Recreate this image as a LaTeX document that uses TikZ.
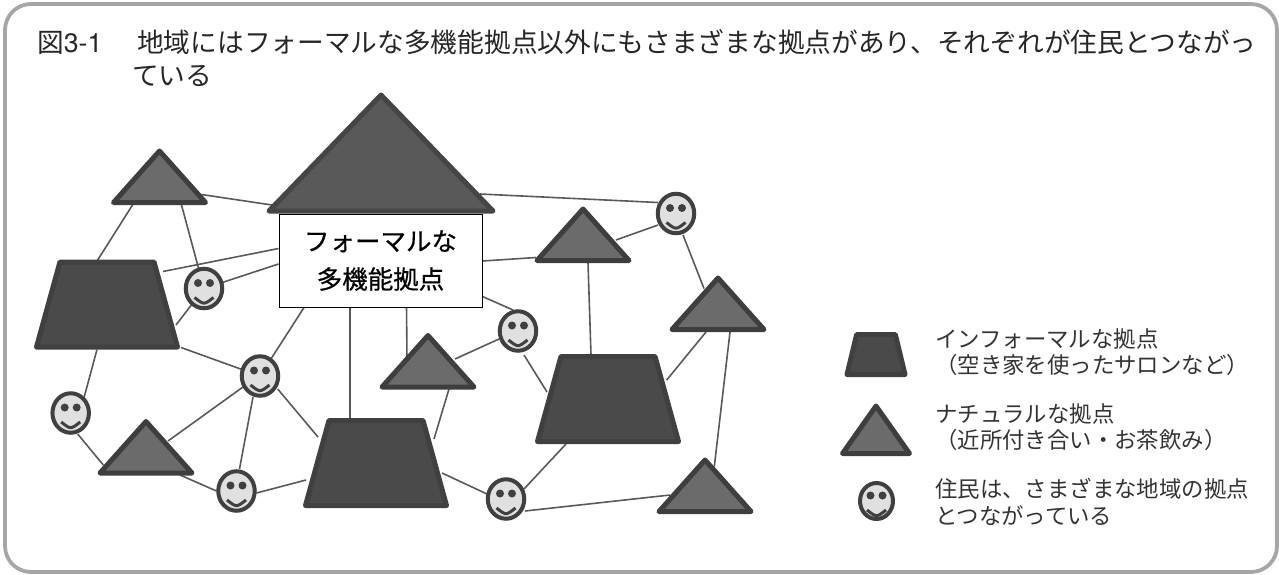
\documentclass[tikz,border=0pt]{standalone}
\usepackage{fontspec}
\setmainfont{Noto Sans CJK JP}
\newfontfamily\latinfont{TeX Gyre Heros}
\newfontfamily\boxfont[FakeBold=0.6]{Noto Sans CJK JP}
\usetikzlibrary{shapes.geometric,backgrounds}
\definecolor{framegray}{HTML}{A6A6A6}
\definecolor{linkgray}{HTML}{595959}
\definecolor{edgegray}{HTML}{3E3E3E}
\tikzset{
  titletext/.style={anchor=base west,inner sep=0pt,font=\fontsize{26.7}{33}\selectfont,text=black!85},
  legendtext/.style={anchor=base west,inner sep=0pt,font=\fontsize{22.4}{27}\selectfont,text=black!80},
  natural/.style={isosceles triangle,isosceles triangle stretches,shape border rotate=90,anchor=lower side,
    inner sep=0pt,outer sep=0pt,minimum width=92pt,minimum height=51.5pt,
    draw=edgegray,fill=black!58,line width=5pt,line join=round},
  informal/.style={trapezium,trapezium stretches=true,trapezium left angle=76,trapezium right angle=76,
    inner sep=1pt,outer sep=0pt,minimum width=141pt,minimum height=85pt,
    draw=black!75,fill=black!71,line width=5pt,line join=round},
  resident/.style={ellipse,inner sep=0pt,outer sep=0pt,minimum width=36.5pt,minimum height=39.5pt,
    draw=black!75,fill=black!12,line width=4pt,
    path picture={
      \coordinate (mid) at (path picture bounding box.center);
      \fill[black!75] ([shift={(-6,-5.5)}]mid) circle (4pt) ([shift={(6,-5.5)}]mid) circle (4pt);
      \draw[black!75,line width=3pt] ([shift={(-9.5,9)}]mid) .. controls ([shift={(0,16.5)}]mid) .. ([shift={(9.5,9)}]mid);
    }},
  link/.style={draw=linkgray,line width=1.6pt},
}
\begin{document}
\begin{tikzpicture}[x=1pt,y=-1pt]
  \useasboundingbox (0,0) rectangle (1279,574);
  \node (frame) [draw=framegray,line width=3.8pt,rounded corners=26pt,inner sep=0pt,outer sep=0pt,
    minimum width=1272pt,minimum height=568pt] at (641,288) {};
  \node (title1) [titletext] at (37,52) {図{\latinfont 3-1}\hspace{34.8pt}地域にはフォーマルな多機能拠点以外にもさまざまな拠点があり、それぞれが住民とつながっ};
  \node (title2) [titletext] at (132,85) {ている};
  % formal base
  \node (roof) [natural,minimum width=224pt,minimum height=116pt,fill=black!65,draw=black!73] at (381,211) {};
  \node (formal) [draw=black,fill=white,line width=1pt,minimum width=203pt,minimum height=93pt,inner sep=0pt,
    align=center,font=\boxfont\fontsize{25.5}{38}\selectfont] at (380.5,260.5) {フォーマルな\\多機能拠点};
  % bases
  \node (t1) [natural] at (159.5,202.5) {};
  \node (t2) [natural] at (583,260.5) {};
  \node (t3) [natural] at (718,329.5) {};
  \node (t4) [natural] at (428,387) {};
  \node (t5) [natural] at (146,473) {};
  \node (t6) [natural] at (705,511.5) {};
  \node (p1) [informal] at (107,304.5) {};
  \node (p2) [informal] at (376,463) {};
  \node (p3) [informal] at (608,399) {};
  % residents
  \node (s1) [resident] at (204,288.5) {};
  \node (s2) [resident] at (260,376) {};
  \node (s3) [resident] at (70.7,413) {};
  \node (s4) [resident] at (236.5,491) {};
  \node (s5) [resident] at (506,499) {};
  \node (s6) [resident] at (518,331) {};
  \node (s7) [resident] at (676,213.5) {};
  \begin{scope}[on background layer,every path/.style={link}]
    \draw ([shift={(42,-8)}]t1.lower side) to ([shift={(-109,-6)}]roof.lower side);
    \draw ([shift={(-27,2.5)}]t1.lower side) to ([shift={(-9.3,-44.5)}]p1.center);
    \draw ([shift={(22,2.5)}]t1.lower side) to (s1);
    \draw ([shift={(56,-33)}]p1.center) to ([shift={(-102,-12)}]formal.center);
    \draw (s1) to ([shift={(-102,3.5)}]formal.center);
    \draw (s1) to ([shift={(69,20.5)}]p1.center);
    \draw ([shift={(74,43)}]p1.center) to (s2);
    \draw (s2) to ([shift={(-75.5,45.5)}]formal.center);
    \draw ([shift={(-10,45)}]p1.center) to ([shift={(13.6,-16.3)}]s3.center);
    \draw ([shift={(7,21)}]s3.center) to ([shift={(-42.7,-8)}]t5.lower side);
    \draw ([shift={(22,-32)}]t5.lower side) to ([shift={(-17,11)}]s2.center);
    \draw ([shift={(34,2)}]t5.lower side) to ([shift={(-20,0)}]s4.center);
    \draw ([shift={(-7,21)}]s2.center) to ([shift={(3,-22)}]s4.center);
    \draw ([shift={(17.7,13)}]s2.center) to ([shift={(-58,-26)}]p2.center);
    \draw ([shift={(20,2)}]s4.center) to ([shift={(-70,17)}]p2.center);
    \draw ([shift={(-30.5,45.5)}]formal.center) to ([shift={(-26,-45)}]p2.center);
    \draw ([shift={(26,45.5)}]formal.center) to ([shift={(-21,-27)}]t4.lower side);
    \draw ([shift={(21,2)}]t4.lower side) to ([shift={(58,-24)}]p2.center);
    \draw ([shift={(27,-28)}]t4.lower side) to ([shift={(-19,8)}]s6.center);
    \draw ([shift={(102,36)}]formal.center) to ([shift={(-5,-21)}]s6.center);
    \draw ([shift={(66,10)}]p2.center) to ([shift={(-19,-5)}]s5.center);
    \draw ([shift={(6,24)}]s6.center) to ([shift={(-61,-7)}]p3.center);
    \draw ([shift={(18,-10)}]s5.center) to ([shift={(-42,45)}]p3.center);
    \draw ([shift={(19,12)}]s5.center) to ([shift={(-35,-16.5)}]t6.lower side);
    \draw ([shift={(12,2.5)}]t3.lower side) to ([shift={(9.3,-45)}]t6.lower side);
    \draw ([shift={(-12,2.5)}]t3.lower side) to ([shift={(58.7,-19)}]p3.center);
    \draw ([shift={(5,2)}]t2.lower side) to ([shift={(-17,-44)}]p3.center);
    \draw ([shift={(102,0.5)}]formal.center) to ([shift={(-47,-3)}]t2.lower side);
    \draw ([shift={(33,-20.5)}]t2.lower side) to ([shift={(-18,11.5)}]s7.center);
    \draw ([shift={(99,-17)}]roof.lower side) to ([shift={(-18,-11)}]s7.center);
    \draw ([shift={(7,21.5)}]s7.center) to ([shift={(-14,-41)}]t3.lower side);
  \end{scope}
  % legend
  \node (keyp) [informal,minimum width=58pt,minimum height=40pt] at (876,354.5) {};
  \node (keyt) [natural,minimum width=67pt,minimum height=47.5pt] at (876,453.5) {};
  \node (keys) [resident,minimum width=33pt,minimum height=36pt] at (876.5,501) {};
  \node (keyp1) [legendtext] at (935,347) {インフォーマルな拠点};
  \node (keyp2) [legendtext] at (935,373) {（空き家を使ったサロンなど）};
  \node (keyt1) [legendtext] at (935,422) {ナチュラルな拠点};
  \node (keyt2) [legendtext] at (935,448) {（近所付き合い・お茶飲み）};
  \node (keys1) [legendtext] at (935,497) {住民は、さまざまな地域の拠点};
  \node (keys2) [legendtext] at (935,524) {とつながっている};
\end{tikzpicture}
\end{document}
